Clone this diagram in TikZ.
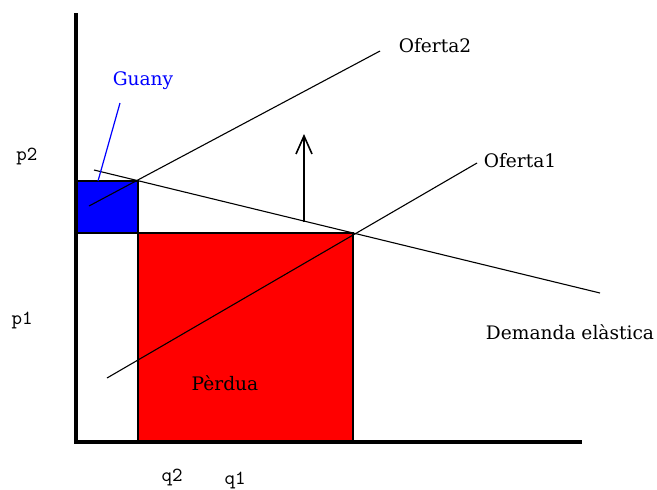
\documentclass[tikz,border=0pt]{standalone}
\usepackage{fontspec}
\setmainfont{DejaVu Serif}
\usetikzlibrary{arrows.meta}

\begin{document}
\begin{tikzpicture}[
  x=0.5pt, y=-0.5pt,
  font=\fontsize{9.3}{11}\selectfont,
  axis/.style={line width=1.9pt, draw=black},
  curve/.style={line width=0.55pt, draw=black},
  area/.style={draw=black, line width=0.55pt},
  supplyshift/.style={-{Straight Barb[length=9pt,width=8pt]}, line width=0.8pt, draw=black},
  pointer/.style={line width=0.6pt, draw=blue},
  tick/.style={font=\ttfamily\fontsize{10}{11}\selectfont, inner sep=0pt}
]
\useasboundingbox (0,0) rectangle (657,489);

% Equilibrium points and axis ends.
\coordinate (origin) at (76,442);
\coordinate (ytop) at (76,13);
\coordinate (xend) at (582,442);
\coordinate (E2) at (138,181);
\coordinate (E1) at (353,233);

% Gain and loss areas.
\draw[area, fill=blue] (origin |- E2) rectangle (E2 |- E1);
\draw[area, fill=red] (E2 |- E1) rectangle (E1 |- origin);

% Demand and the two supply curves.
\draw[curve] (94,170) -- (600,293);
\draw[curve] (89,206) -- (380,51);
\draw[curve] (107,378) -- (477,163);

% Shift of supply.
\coordinate (shiftfoot) at (304,222);
\coordinate (shifttip) at (304,134);
\draw[supplyshift] (shiftfoot) -- (shifttip);

% Axes on top of the areas.
\draw[axis] (ytop) -- (origin) -- (xend);

% Labels.
\node[text=blue, inner sep=0pt] (guany) at (143,81) {Guany};
\coordinate (guanytip) at (120,103);
\coordinate (guanyfoot) at (98,181);
\draw[pointer] (guanytip) -- (guanyfoot);

\node[tick] (p2) at (27,156) {p2};
\node[tick] (p1) at (22,320) {p1};
\node[tick] (q2) at (172,477) {q2};
\node[tick] (q1) at (235,480) {q1};

\node[inner sep=0pt] (perdua) at (225,383) {Pèrdua};
\node[inner sep=0pt] (oferta2) at (435,46) {Oferta2};
\node[inner sep=0pt] (oferta1) at (520,161) {Oferta1};
\node[inner sep=0pt] (demanda) at (570,332) {Demanda elàstica};

\end{tikzpicture}
\end{document}
